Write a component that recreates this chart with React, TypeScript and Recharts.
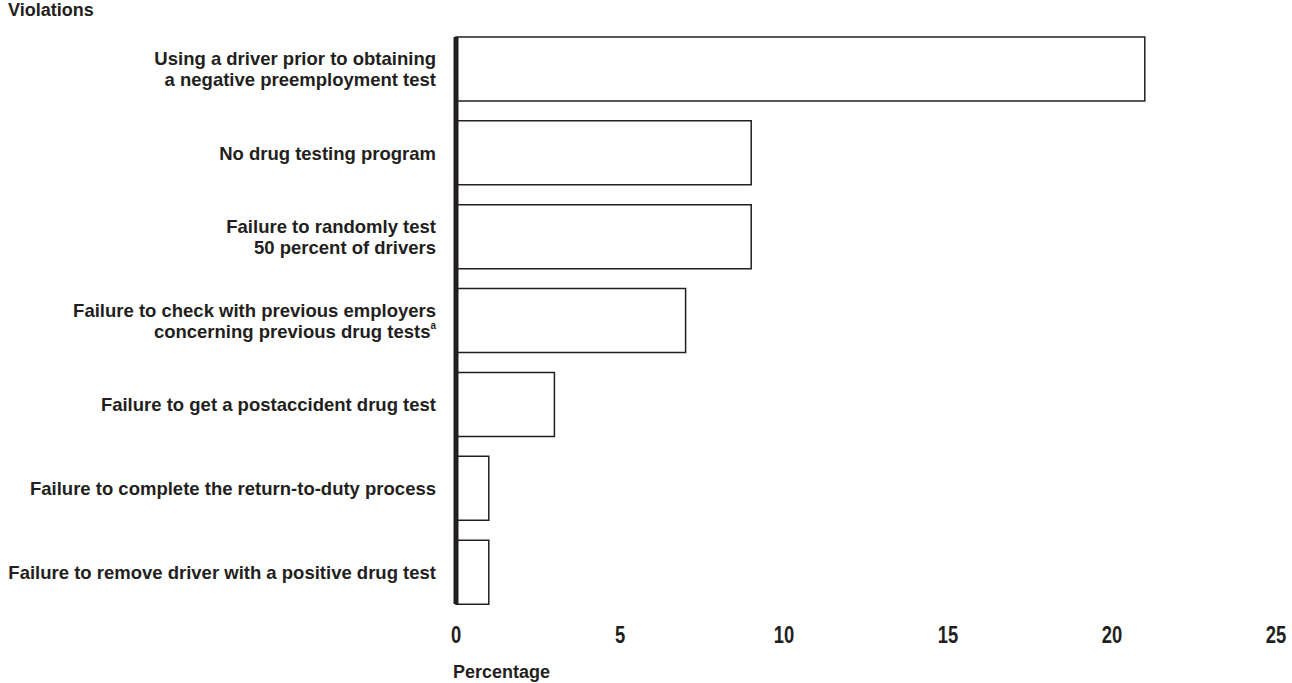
import React from "react";
import { Bar, BarChart, XAxis, YAxis } from "recharts";

const violations = [
  "Using a driver prior to obtaining\na negative preemployment test",
  "No drug testing program",
  "Failure to randomly test\n50 percent of drivers",
  "Failure to check with previous employers\nconcerning previous drug tests",
  "Failure to get a postaccident drug test",
  "Failure to complete the return-to-duty process",
  "Failure to remove driver with a positive drug test",
];
const footnotes = ["", "", "", "a", "", "", ""];
const percentages = [21, 9, 9, 7, 3, 1, 1];
const xTicks = [0, 5, 10, 15, 20, 25];

const data = violations.map((v, i) => ({ name: v, value: percentages[i] }));

const ink = "#231f20";
const labelFont = "'Liberation Sans', Arial, Helvetica, sans-serif";

function ViolationTick(props: any) {
  const { x, y, payload, index } = props;
  const lines = String(payload.value).split("\n");
  const note = footnotes[index] || "";
  const lh = 21;
  const start = -((lines.length - 1) * lh) / 2;
  return (
    <text
      x={x - 12}
      y={y + start}
      textAnchor="end"
      fontFamily={labelFont}
      fontWeight="bold"
      fontSize={18.5}
      fill={ink}
      dominantBaseline="central"
    >
      {lines.map((l, i) => (
        <tspan key={i} x={x - 12} dy={i === 0 ? 0 : lh}>
          {l}
          {i === lines.length - 1 && note ? (
            <tspan fontSize={10} dy={-6}>{note}</tspan>
          ) : null}
        </tspan>
      ))}
    </text>
  );
}

// condensed bold digits, like the original's narrow face
function PercentTick(props: any) {
  const { x, y, payload } = props;
  return (
    <g transform={`translate(${x},${y + 31}) scale(0.8,1)`}>
      <text
        x={0}
        y={0}
        textAnchor="middle"
        fontFamily={labelFont}
        fontWeight="bold"
        fontSize={23}
        fill={ink}
      >
        {payload.value}
      </text>
    </g>
  );
}

export default function App() {
  return (
    <div style={{ position: "absolute", left: 0, top: 0, width: 1292, height: 683, background: "#fff" }}>
      <div
        style={{
          position: "absolute",
          left: 8,
          top: 0,
          fontFamily: labelFont,
          fontWeight: "bold",
          fontSize: 18,
          color: ink,
        }}
      >
        Violations
      </div>
      <div
        style={{
          position: "absolute",
          left: 453,
          top: 662,
          fontFamily: labelFont,
          fontWeight: "bold",
          fontSize: 18,
          color: ink,
        }}
      >
        Percentage
      </div>
      <BarChart
        width={1292}
        height={683}
        data={data}
        layout="vertical"
        margin={{ top: 37, right: 16, bottom: 0, left: 0 }}
        barCategoryGap={10}
      >
        <XAxis
          type="number"
          domain={[0, 25]}
          ticks={xTicks}
          axisLine={false}
          tickLine={false}
          height={79}
          tick={<PercentTick />}
          interval={0}
        />
        <YAxis
          type="category"
          dataKey="name"
          width={456}
          padding={{ top: -10, bottom: -10 }}
          axisLine={{ stroke: ink, strokeWidth: 5 }}
          tickLine={false}
          tick={<ViolationTick />}
          interval={0}
        />
        <Bar dataKey="value" fill="#fff" stroke={ink} strokeWidth={1.5} isAnimationActive={false} />
      </BarChart>
    </div>
  );
}
